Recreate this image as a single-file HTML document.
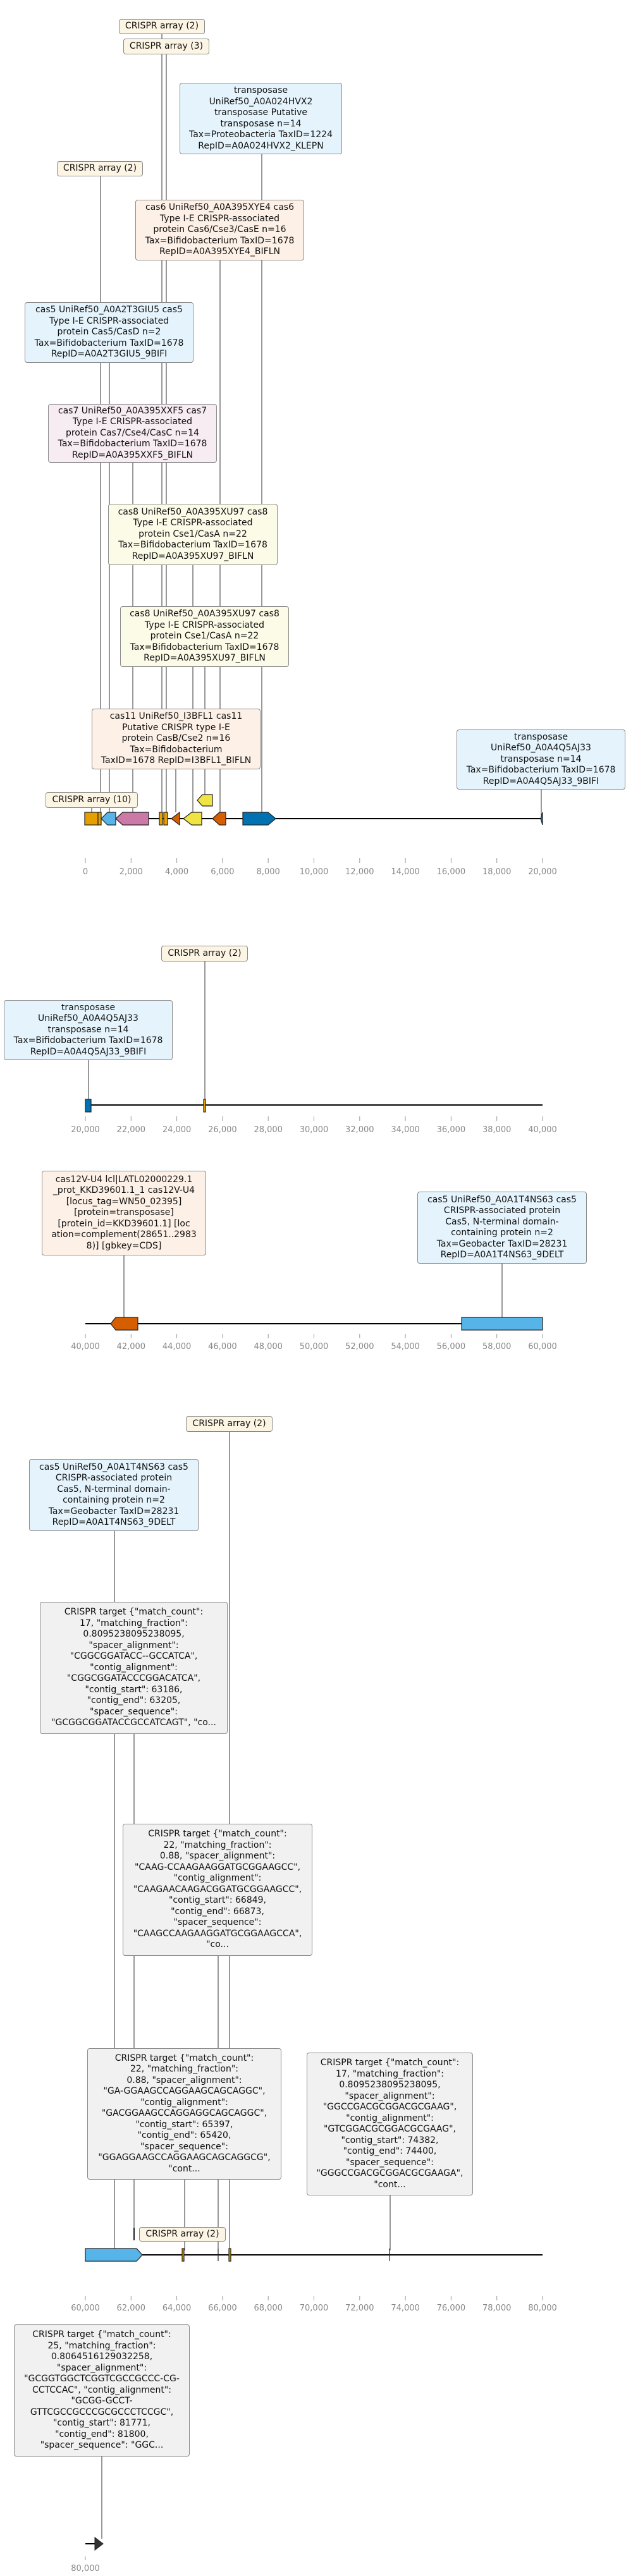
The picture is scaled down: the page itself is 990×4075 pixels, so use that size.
<!DOCTYPE html>
<html><head><meta charset="utf-8"><style>
body{margin:0;background:#fff;}
#c{position:relative;width:990px;height:4075px;overflow:hidden;background:#fff;}
.b{position:absolute;box-sizing:border-box;border:1.5px solid #8a8a8a;border-radius:4px;display:flex;flex-direction:column;justify-content:center;align-items:center;text-align:center;font-family:"DejaVu Sans","Liberation Sans",sans-serif;font-size:14px;line-height:17.5px;color:#111;white-space:nowrap;overflow:visible;}
.cr{background:#fdf5e4;}
.tb{background:#e5f4fc;}
.pe{background:#fdf0e6;}
.pk{background:#f7ecf2;}
.yl{background:#fcfbe8;}
.gr{background:#f1f1f1;}
svg{position:absolute;left:0;top:0;}
.t{font-family:"DejaVu Sans","Liberation Sans",sans-serif;font-size:13px;fill:#888;}
</style></head><body><div id="c">
<svg width="990" height="4075" viewBox="0 0 990 4075">
<g stroke="#333" stroke-width="1">
<!-- track1 connectors -->
<line x1="256" y1="53" x2="256" y2="1285"/>
<line x1="263" y1="86" x2="263" y2="1285"/>
<line x1="414" y1="244" x2="414" y2="1285"/>
<line x1="159" y1="279" x2="159" y2="1285"/>
<line x1="348" y1="412" x2="348" y2="1285"/>
<line x1="173" y1="574" x2="173" y2="1285"/>
<line x1="210" y1="732" x2="210" y2="1285"/>
<line x1="305" y1="894" x2="305" y2="1285"/>
<line x1="324" y1="1055" x2="324" y2="1257"/>
<line x1="278" y1="1217" x2="278" y2="1285"/>
<line x1="856" y1="1249" x2="856" y2="1290"/>
<line x1="145" y1="1278" x2="145" y2="1285"/>
<!-- track2 -->
<line x1="324" y1="1521" x2="324" y2="1740"/>
<line x1="140" y1="1677" x2="140" y2="1740"/>
<!-- track3 -->
<line x1="196" y1="1986" x2="196" y2="2084"/>
<line x1="794" y1="1999" x2="794" y2="2084"/>
<!-- track4 -->
<line x1="363" y1="2265" x2="363" y2="3560"/>
<line x1="181" y1="2422" x2="181" y2="3560"/>
<line x1="212" y1="2743" x2="212" y2="3544"/>
<line x1="345" y1="3094" x2="345" y2="3560"/>
<line x1="292" y1="3448" x2="292" y2="3560"/>
<line x1="617" y1="3473" x2="617" y2="3560"/>
<!-- track5 -->
<line x1="161" y1="3886" x2="161" y2="4016"/>
</g>
<line x1="212" y1="3524" x2="212" y2="3544" stroke="#222" stroke-width="2"/>
<!-- track lines -->
<g stroke="#000" stroke-width="2">
<line x1="135" y1="1295" x2="858" y2="1295"/>
<line x1="135" y1="1748" x2="858" y2="1748"/>
<line x1="135" y1="2094" x2="858" y2="2094"/>
<line x1="135" y1="3567" x2="858" y2="3567"/>
<line x1="135" y1="4024" x2="152" y2="4024"/>
</g>
<!-- track1 genes -->
<g stroke="#222" stroke-width="1.2">
<rect x="134" y="1285" width="21" height="20" fill="#e69f00"/>
<rect x="155" y="1285" width="5" height="20" fill="#e69f00"/>
<polygon points="160,1295 170,1285 183,1285 183,1305 170,1305" fill="#56b4e9"/>
<polygon points="183,1295 194,1285 235,1285 235,1305 194,1305" fill="#cc79a7"/>
<rect x="252" y="1285" width="5" height="20" fill="#e69f00"/>
<rect x="259" y="1285" width="6" height="20" fill="#e69f00"/>
<polygon points="271,1295 284,1285 284,1305" fill="#d55e00"/>
<polygon points="290,1295 303,1285 319,1285 319,1305 303,1305" fill="#f0e442"/>
<polygon points="336,1295 347,1285 357,1285 357,1305 347,1305" fill="#d55e00"/>
<polygon points="384,1285 424,1285 436,1295 424,1305 384,1305" fill="#0072b2"/>
<polygon points="312,1266 320,1257 336,1257 336,1275 320,1275" fill="#f0e442"/>
<polygon points="858,1285 855,1295 858,1305" fill="#0072b2"/>
</g>
<!-- track2 genes -->
<g stroke="#222" stroke-width="1.2">
<rect x="135" y="1739" width="9" height="20" fill="#0072b2"/>
<rect x="322" y="1739" width="3" height="20" fill="#e69f00"/>
</g>
<!-- track3 genes -->
<g stroke="#222" stroke-width="1.2">
<polygon points="175,2094 183,2084 218,2084 218,2104 183,2104" fill="#d55e00"/>
<rect x="730" y="2084" width="128" height="20" fill="#56b4e9"/>
</g>
<!-- track4 genes -->
<g stroke="#222" stroke-width="1.2">
<polygon points="135,3557 216,3557 225,3567 216,3577 135,3577" fill="#56b4e9"/>
<rect x="288" y="3557" width="3" height="20" fill="#e69f00"/>
<rect x="362" y="3557" width="3" height="20" fill="#e69f00"/>
<line x1="345" y1="3557" x2="345" y2="3577"/>
<line x1="616" y1="3557" x2="616" y2="3577"/>
</g>
<!-- track5 -->
<polygon points="150,4014 163,4024 150,4034" fill="#333" stroke="#222"/>
<!-- axes -->
<g stroke="#999" stroke-width="1" id="ticks"></g>
<g id="ax">
</g>
</svg>

<div class="b cr" style="left:188px;top:30px;width:136px;height:24px;">CRISPR array (2)</div>
<div class="b cr" style="left:195px;top:61px;width:136px;height:25px;">CRISPR array (3)</div>
<div class="b tb" style="left:284px;top:131px;width:257px;height:113px;">transposase<br>UniRef50_A0A024HVX2<br>transposase Putative<br>transposase n=14<br>Tax=Proteobacteria TaxID=1224<br>RepID=A0A024HVX2_KLEPN</div>
<div class="b cr" style="left:90px;top:255px;width:136px;height:24px;">CRISPR array (2)</div>
<div class="b pe" style="left:214px;top:316px;width:267px;height:96px;">cas6 UniRef50_A0A395XYE4 cas6<br>Type I-E CRISPR-associated<br>protein Cas6/Cse3/CasE n=16<br>Tax=Bifidobacterium TaxID=1678<br>RepID=A0A395XYE4_BIFLN</div>
<div class="b tb" style="left:39px;top:478px;width:267px;height:96px;">cas5 UniRef50_A0A2T3GIU5 cas5<br>Type I-E CRISPR-associated<br>protein Cas5/CasD n=2<br>Tax=Bifidobacterium TaxID=1678<br>RepID=A0A2T3GIU5_9BIFI</div>
<div class="b pk" style="left:76px;top:639px;width:267px;height:93px;">cas7 UniRef50_A0A395XXF5 cas7<br>Type I-E CRISPR-associated<br>protein Cas7/Cse4/CasC n=14<br>Tax=Bifidobacterium TaxID=1678<br>RepID=A0A395XXF5_BIFLN</div>
<div class="b yl" style="left:171px;top:797px;width:268px;height:97px;">cas8 UniRef50_A0A395XU97 cas8<br>Type I-E CRISPR-associated<br>protein Cse1/CasA n=22<br>Tax=Bifidobacterium TaxID=1678<br>RepID=A0A395XU97_BIFLN</div>
<div class="b yl" style="left:190px;top:959px;width:267px;height:96px;">cas8 UniRef50_A0A395XU97 cas8<br>Type I-E CRISPR-associated<br>protein Cse1/CasA n=22<br>Tax=Bifidobacterium TaxID=1678<br>RepID=A0A395XU97_BIFLN</div>
<div class="b pe" style="left:145px;top:1121px;width:267px;height:96px;">cas11 UniRef50_I3BFL1 cas11<br>Putative CRISPR type I-E<br>protein CasB/Cse2 n=16<br>Tax=Bifidobacterium<br>TaxID=1678 RepID=I3BFL1_BIFLN</div>
<div class="b tb" style="left:722px;top:1154px;width:267px;height:95px;">transposase<br>UniRef50_A0A4Q5AJ33<br>transposase n=14<br>Tax=Bifidobacterium TaxID=1678<br>RepID=A0A4Q5AJ33_9BIFI</div>
<div class="b cr" style="left:72px;top:1253px;width:146px;height:25px;">CRISPR array (10)</div>

<div class="b cr" style="left:255px;top:1496px;width:137px;height:25px;">CRISPR array (2)</div>
<div class="b tb" style="left:6px;top:1582px;width:267px;height:95px;">transposase<br>UniRef50_A0A4Q5AJ33<br>transposase n=14<br>Tax=Bifidobacterium TaxID=1678<br>RepID=A0A4Q5AJ33_9BIFI</div>

<div class="b pe" style="left:66px;top:1852px;width:260px;height:134px;">cas12V-U4 lcl|LATL02000229.1<br>_prot_KKD39601.1_1 cas12V-U4<br>[locus_tag=WN50_02395]<br>[protein=transposase]<br>[protein_id=KKD39601.1] [loc<br>ation=complement(28651..2983<br>8)] [gbkey=CDS]</div>
<div class="b tb" style="left:660px;top:1885px;width:268px;height:114px;">cas5 UniRef50_A0A1T4NS63 cas5<br>CRISPR-associated protein<br>Cas5, N-terminal domain-<br>containing protein n=2<br>Tax=Geobacter TaxID=28231<br>RepID=A0A1T4NS63_9DELT</div>

<div class="b cr" style="left:294px;top:2240px;width:137px;height:25px;">CRISPR array (2)</div>
<div class="b tb" style="left:46px;top:2308px;width:268px;height:114px;">cas5 UniRef50_A0A1T4NS63 cas5<br>CRISPR-associated protein<br>Cas5, N-terminal domain-<br>containing protein n=2<br>Tax=Geobacter TaxID=28231<br>RepID=A0A1T4NS63_9DELT</div>
<div class="b gr" style="left:63px;top:2534px;width:297px;height:209px;">CRISPR target {"match_count":<br>17, "matching_fraction":<br>0.8095238095238095,<br>"spacer_alignment":<br>"CGGCGGATACC--GCCATCA",<br>"contig_alignment":<br>"CGGCGGATACCCGGACATCA",<br>"contig_start": 63186,<br>"contig_end": 63205,<br>"spacer_sequence":<br>"GCGGCGGATACCGCCATCAGT", "co...</div>
<div class="b gr" style="left:194px;top:2885px;width:300px;height:209px;">CRISPR target {"match_count":<br>22, "matching_fraction":<br>0.88, "spacer_alignment":<br>"CAAG-CCAAGAAGGATGCGGAAGCC",<br>"contig_alignment":<br>"CAAGAACAAGACGGATGCGGAAGCC",<br>"contig_start": 66849,<br>"contig_end": 66873,<br>"spacer_sequence":<br>"CAAGCCAAGAAGGATGCGGAAGCCA",<br>"co...</div>
<div class="b gr" style="left:138px;top:3240px;width:307px;height:208px;">CRISPR target {"match_count":<br>22, "matching_fraction":<br>0.88, "spacer_alignment":<br>"GA-GGAAGCCAGGAAGCAGCAGGC",<br>"contig_alignment":<br>"GACGGAAGCCAGGAGGCAGCAGGC",<br>"contig_start": 65397,<br>"contig_end": 65420,<br>"spacer_sequence":<br>"GGAGGAAGCCAGGAAGCAGCAGGCG",<br>"cont...</div>
<div class="b gr" style="left:485px;top:3247px;width:263px;height:226px;">CRISPR target {"match_count":<br>17, "matching_fraction":<br>0.8095238095238095,<br>"spacer_alignment":<br>"GGCCGACGCGGACGCGAAG",<br>"contig_alignment":<br>"GTCGGACGCGGACGCGAAG",<br>"contig_start": 74382,<br>"contig_end": 74400,<br>"spacer_sequence":<br>"GGGCCGACGCGGACGCGAAGA",<br>"cont...</div>
<div class="b cr" style="left:220px;top:3523px;width:137px;height:23px;">CRISPR array (2)</div>
<div class="b gr" style="left:22px;top:3677px;width:278px;height:209px;">CRISPR target {"match_count":<br>25, "matching_fraction":<br>0.8064516129032258,<br>"spacer_alignment":<br>"GCGGTGGCTCGGTCGCCGCCC-CG-<br>CCTCCAC", "contig_alignment":<br>"GCGG-GCCT-<br>GTTCGCCGCCCGCGCCCTCCGC",<br>"contig_start": 81771,<br>"contig_end": 81800,<br>"spacer_sequence": "GGC...</div>

<svg width="990" height="4075" viewBox="0 0 990 4075" style="pointer-events:none">
<g stroke="#999" stroke-width="1">
<line x1="135.0" y1="1357" x2="135.0" y2="1365"/><line x1="207.3" y1="1357" x2="207.3" y2="1365"/><line x1="279.6" y1="1357" x2="279.6" y2="1365"/><line x1="351.9" y1="1357" x2="351.9" y2="1365"/><line x1="424.2" y1="1357" x2="424.2" y2="1365"/><line x1="496.5" y1="1357" x2="496.5" y2="1365"/><line x1="568.8" y1="1357" x2="568.8" y2="1365"/><line x1="641.1" y1="1357" x2="641.1" y2="1365"/><line x1="713.4" y1="1357" x2="713.4" y2="1365"/><line x1="785.7" y1="1357" x2="785.7" y2="1365"/><line x1="858.0" y1="1357" x2="858.0" y2="1365"/>
<line x1="135.0" y1="1766" x2="135.0" y2="1773"/><line x1="207.3" y1="1766" x2="207.3" y2="1773"/><line x1="279.6" y1="1766" x2="279.6" y2="1773"/><line x1="351.9" y1="1766" x2="351.9" y2="1773"/><line x1="424.2" y1="1766" x2="424.2" y2="1773"/><line x1="496.5" y1="1766" x2="496.5" y2="1773"/><line x1="568.8" y1="1766" x2="568.8" y2="1773"/><line x1="641.1" y1="1766" x2="641.1" y2="1773"/><line x1="713.4" y1="1766" x2="713.4" y2="1773"/><line x1="785.7" y1="1766" x2="785.7" y2="1773"/><line x1="858.0" y1="1766" x2="858.0" y2="1773"/>
<line x1="135.0" y1="2110" x2="135.0" y2="2117"/><line x1="207.3" y1="2110" x2="207.3" y2="2117"/><line x1="279.6" y1="2110" x2="279.6" y2="2117"/><line x1="351.9" y1="2110" x2="351.9" y2="2117"/><line x1="424.2" y1="2110" x2="424.2" y2="2117"/><line x1="496.5" y1="2110" x2="496.5" y2="2117"/><line x1="568.8" y1="2110" x2="568.8" y2="2117"/><line x1="641.1" y1="2110" x2="641.1" y2="2117"/><line x1="713.4" y1="2110" x2="713.4" y2="2117"/><line x1="785.7" y1="2110" x2="785.7" y2="2117"/><line x1="858.0" y1="2110" x2="858.0" y2="2117"/>
<line x1="135.0" y1="3632" x2="135.0" y2="3639"/><line x1="207.3" y1="3632" x2="207.3" y2="3639"/><line x1="279.6" y1="3632" x2="279.6" y2="3639"/><line x1="351.9" y1="3632" x2="351.9" y2="3639"/><line x1="424.2" y1="3632" x2="424.2" y2="3639"/><line x1="496.5" y1="3632" x2="496.5" y2="3639"/><line x1="568.8" y1="3632" x2="568.8" y2="3639"/><line x1="641.1" y1="3632" x2="641.1" y2="3639"/><line x1="713.4" y1="3632" x2="713.4" y2="3639"/><line x1="785.7" y1="3632" x2="785.7" y2="3639"/><line x1="858.0" y1="3632" x2="858.0" y2="3639"/>
<line x1="135" y1="4044" x2="135" y2="4050"/>
</g>
<g class="t" text-anchor="middle">
<text x="135.0" y="1383">0</text><text x="207.3" y="1383">2,000</text><text x="279.6" y="1383">4,000</text><text x="351.9" y="1383">6,000</text><text x="424.2" y="1383">8,000</text><text x="496.5" y="1383">10,000</text><text x="568.8" y="1383">12,000</text><text x="641.1" y="1383">14,000</text><text x="713.4" y="1383">16,000</text><text x="785.7" y="1383">18,000</text><text x="858.0" y="1383">20,000</text>
<text x="135.0" y="1791">20,000</text><text x="207.3" y="1791">22,000</text><text x="279.6" y="1791">24,000</text><text x="351.9" y="1791">26,000</text><text x="424.2" y="1791">28,000</text><text x="496.5" y="1791">30,000</text><text x="568.8" y="1791">32,000</text><text x="641.1" y="1791">34,000</text><text x="713.4" y="1791">36,000</text><text x="785.7" y="1791">38,000</text><text x="858.0" y="1791">40,000</text>
<text x="135.0" y="2134">40,000</text><text x="207.3" y="2134">42,000</text><text x="279.6" y="2134">44,000</text><text x="351.9" y="2134">46,000</text><text x="424.2" y="2134">48,000</text><text x="496.5" y="2134">50,000</text><text x="568.8" y="2134">52,000</text><text x="641.1" y="2134">54,000</text><text x="713.4" y="2134">56,000</text><text x="785.7" y="2134">58,000</text><text x="858.0" y="2134">60,000</text>
<text x="135.0" y="3655">60,000</text><text x="207.3" y="3655">62,000</text><text x="279.6" y="3655">64,000</text><text x="351.9" y="3655">66,000</text><text x="424.2" y="3655">68,000</text><text x="496.5" y="3655">70,000</text><text x="568.8" y="3655">72,000</text><text x="641.1" y="3655">74,000</text><text x="713.4" y="3655">76,000</text><text x="785.7" y="3655">78,000</text><text x="858.0" y="3655">80,000</text>
<text x="135" y="4067">80,000</text>
</g>
</svg>
</div></body></html>
